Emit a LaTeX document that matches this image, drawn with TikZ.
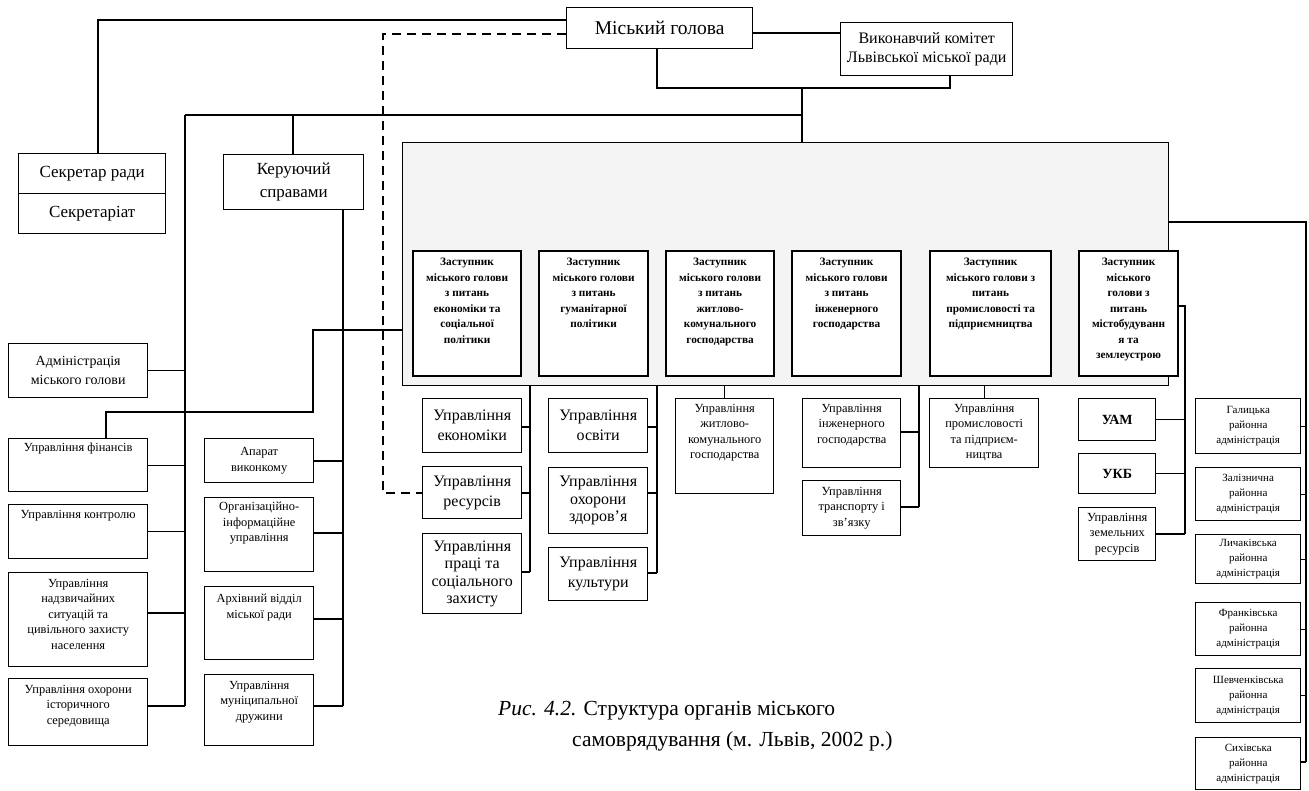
\documentclass[tikz,border=0pt]{standalone}
\usepackage{fontspec}
\setmainfont{Liberation Serif}
\newcommand\cbx[7]{\node[#6, anchor=north west, minimum width={(#4-#2)*1pt}, minimum height={(#5-#3)*1pt}] (#1) at (#2,#3) {#7};}
\newcommand\tbx[8]{\node[#6, anchor=north west, minimum width={(#4-#2)*1pt}, minimum height={(#5-#3)*1pt}] (#1) at (#2,#3) {};
\node[txt, #7, anchor=north] (#1-t) at (#1.north) {#8};}
\tikzset{
  box/.style={draw, line width=1.4pt, fill=white, inner sep=1pt, align=center},
  depbox/.style={draw, line width=2.2pt, fill=white, inner sep=0pt},
  bigbox/.style={draw, line width=1.4pt, fill=gray!9, inner sep=0pt},
  ln/.style={line width=1.4pt},
  dln/.style={line width=1.4pt, dash pattern=on 9pt off 6pt},
  txt/.style={align=center, inner sep=0pt},
  fA/.style={font=\fontsize{19.5}{22}\selectfont},
  fB/.style={font=\fontsize{16}{19}\selectfont},
  fBB/.style={font=\fontsize{16}{20}\selectfont},
  fP/.style={font=\fontsize{16}{17.5}\selectfont},
  fC/.style={font=\fontsize{14}{19}\selectfont},
  fD/.style={font=\fontsize{12.4}{15.5}\selectfont},
  fE/.style={font=\fontsize{11}{15}\selectfont},
  fDep/.style={font=\bfseries\fontsize{11.3}{15.5}\selectfont},
  fU/.style={font=\bfseries\fontsize{14}{16}\selectfont},
}
\begin{document}
\begin{tikzpicture}[x=1pt,y=-1pt]
\useasboundingbox (0,0) rectangle (1309,791);

% top
\cbx{mayor}{566}{7}{752}{48}{box,fA}{Міський голова}
\cbx{exec}{840}{22}{1012}{75}{box,fB}{Виконавчий комітет\\Львівської міської ради}
\cbx{sec}{18}{153}{165}{193}{box,font=\fontsize{17}{20}\selectfont}{Секретар ради}
\cbx{secr}{18}{193}{165}{233}{box,font=\fontsize{17}{20}\selectfont}{Секретаріат}
\cbx{ker}{223}{154}{363}{209}{box,font=\fontsize{17}{23}\selectfont}{Керуючий\\справами}

% big shaded box and deputies
\node[bigbox, anchor=north west, minimum width=766pt, minimum height=243pt] (big) at (402,142) {};
\tbx{dep1}{412}{250}{520}{375}{depbox}{fDep,yshift=-8pt}{Заступник\\міського голови\\з питань\\економіки та\\соціальної\\політики}
\tbx{dep2}{538}{250}{647}{375}{depbox}{fDep,yshift=-8pt}{Заступник\\міського голови\\з питань\\гуманітарної\\політики}
\tbx{dep3}{665}{250}{773}{375}{depbox}{fDep,yshift=-8pt}{Заступник\\міського голови\\з питань\\житлово-\\комунального\\господарства}
\tbx{dep4}{791}{250}{900}{375}{depbox}{fDep,yshift=-8pt}{Заступник\\міського голови\\з питань\\інженерного\\господарства}
\tbx{dep5}{929}{250}{1050}{375}{depbox}{fDep,yshift=-8pt}{Заступник\\міського голови з\\питань\\промисловості та\\підприємництва}
\tbx{dep6}{1078}{250}{1177}{375}{depbox}{fDep,yshift=-8pt}{Заступник\\міського\\голови з\\питань\\містобудуванн\\я та\\землеустрою}

% left column
\cbx{adm}{8}{343}{147}{397}{box,fC}{Адміністрація\\міського голови}
\tbx{fin}{8}{438}{147}{491}{box}{fD,yshift=-5pt}{Управління фінансів}
\tbx{kontr}{8}{504}{147}{558}{box}{fD,yshift=-6pt}{Управління контролю}
\tbx{nadz}{8}{572}{147}{666}{box}{fD,yshift=-7pt}{Управління\\надзвичайних\\ситуацій та\\цивільного захисту\\населення}
\tbx{ohor}{8}{678}{147}{745}{box}{fD,yshift=-7pt}{Управління охорони\\історичного\\середовища}

% middle-left column
\cbx{apar}{204}{438}{313}{482}{box,fD}{Апарат\\виконкому}
\tbx{org}{204}{497}{313}{571}{box}{fD,yshift=-5pt}{Організаційно-\\інформаційне\\управління}
\tbx{arch}{204}{586}{313}{659}{box}{fD,yshift=-8pt}{Архівний відділ\\міської ради}
\tbx{mun}{204}{674}{313}{745}{box}{fD,yshift=-7pt}{Управління\\муніципальної\\дружини}

% departments under deputies
\cbx{econ}{422}{398}{521}{452}{box,fBB}{Управління\\економіки}
\cbx{res}{422}{466}{521}{518}{box,fBB}{Управління\\ресурсів}
\cbx{prac}{422}{533}{521}{613}{box,fP}{Управління\\праці та\\соціального\\захисту}
\cbx{osv}{548}{398}{647}{452}{box,fBB}{Управління\\освіти}
\cbx{zdor}{548}{467}{647}{533}{box,fP}{Управління\\охорони\\здоров'я}
\cbx{kult}{548}{547}{647}{600}{box,fBB}{Управління\\культури}
\tbx{zhkg}{675}{398}{773}{493}{box}{fD,yshift=-6pt}{Управління\\житлово-\\комунального\\господарства}
\tbx{inzh}{802}{398}{900}{467}{box}{fD,yshift=-6pt}{Управління\\інженерного\\господарства}
\cbx{tran}{802}{480}{900}{535}{box,fD}{Управління\\транспорту і\\зв'язку}
\tbx{prom}{929}{398}{1038}{467}{box}{fD,yshift=-6pt}{Управління\\промисловості\\та підприєм-\\ництва}
\cbx{uam}{1078}{398}{1155}{440}{box,fU}{УАМ}
\cbx{ukb}{1078}{453}{1155}{493}{box,fU}{УКБ}
\cbx{zem}{1078}{507}{1155}{560}{box,fD}{Управління\\земельних\\ресурсів}

% district administrations
\cbx{gal}{1195}{398}{1300}{453}{box,fE}{Галицька\\районна\\адміністрація}
\cbx{zal}{1195}{467}{1300}{520}{box,fE}{Залізнична\\районна\\адміністрація}
\cbx{lych}{1195}{534}{1300}{583}{box,fE}{Личаківська\\районна\\адміністрація}
\cbx{fran}{1195}{602}{1300}{655}{box,fE}{Франківська\\районна\\адміністрація}
\cbx{shev}{1195}{668}{1300}{722}{box,fE}{Шевченківська\\районна\\адміністрація}
\cbx{syh}{1195}{737}{1300}{789}{box,fE}{Сихівська\\районна\\адміністрація}

% caption
\node[anchor=base west, inner sep=0pt, font=\fontsize{21.5}{24}\selectfont] (cap1) at (498,715) {\textit{Рис. 4.2.} Структура органів міського};
\node[anchor=base west, inner sep=0pt, font=\fontsize{21.5}{24}\selectfont] (cap2) at (572,746) {самоврядування (м. Львів, 2002 р.)};

% coordinates
\coordinate (t1) at (98,20);
\coordinate (d1) at (383,34);
\coordinate (d2) at (383,493);
\coordinate (m1) at (657,88);
\coordinate (m2) at (950,88);
\coordinate (m3) at (802,88);
\coordinate (h1) at (185,115);
\coordinate (h2) at (802,115);
\coordinate (h3) at (293,115);
\coordinate (ls) at (185,706);
\coordinate (ms) at (343,706);
\coordinate (f1) at (313,330);
\coordinate (f2) at (313,412);
\coordinate (f3) at (106,412);
\coordinate (s1) at (530,572);
\coordinate (s2) at (657,573);
\coordinate (s4) at (919,507);
\coordinate (u1) at (1185,306);
\coordinate (u2) at (1185,534);
\coordinate (r1) at (1306,222);
\coordinate (r2) at (1306,762);

\begin{scope}[ln]
\draw (mayor.west |- t1) -- (t1) -- (t1 |- sec.north);
\draw[dln] (mayor.west |- d1) -- (d1) -- (d2) -- (res.west |- d2);
\draw (mayor.east |- 0,33) -- (exec.west |- 0,33);
\draw (m1 |- mayor.south) -- (m1) -- (m2) -- (m2 |- exec.south);
\draw (m3) -- (m3 |- big.north);
\draw (h1) -- (h2);
\draw (h3) -- (h3 |- ker.north);
\draw (h1) -- (ls);
\draw (adm.east) -- (adm.east -| h1);
\draw (fin.east) -- (fin.east -| h1);
\draw (kontr.east) -- (kontr.east -| h1);
\draw (nadz.east |- 0,613) -- (h1 |- 0,613);
\draw (ohor.east |- ls) -- (ls);
\draw (ms |- ker.south) -- (ms);
\draw (apar.east |- 0,461) -- (ms |- 0,461);
\draw (org.east |- 0,533) -- (ms |- 0,533);
\draw (arch.east |- 0,619) -- (ms |- 0,619);
\draw (mun.east |- ms) -- (ms);
\draw (big.west |- f1) -- (f1) -- (f2) -- (f3) -- (f3 |- fin.north);
\draw (s1 |- big.south) -- (s1);
\draw (econ.east |- 0,427) -- (s1 |- 0,427);
\draw (res.east |- d2) -- (s1 |- d2);
\draw (prac.east |- s1) -- (s1);
\draw (s2 |- big.south) -- (s2);
\draw (osv.east |- 0,427) -- (s2 |- 0,427);
\draw (zdor.east |- 0,493) -- (s2 |- 0,493);
\draw (kult.east |- s2) -- (s2);
\draw (zhkg.north |- big.south) -- (zhkg.north);
\draw (s4 |- big.south) -- (s4);
\draw (inzh.east |- 0,432) -- (s4 |- 0,432);
\draw (tran.east |- s4) -- (s4);
\draw (prom.north |- big.south) -- (prom.north);
\draw (dep6.east |- u1) -- (u1) -- (u2);
\draw (uam.east) -- (uam.east -| u1);
\draw (ukb.east) -- (ukb.east -| u1);
\draw (zem.east |- u2) -- (u2);
\draw (big.east |- r1) -- (r1) -- (r2);
\draw (gal.east) -- (gal.east -| r1);
\draw (zal.east) -- (zal.east -| r1);
\draw (lych.east) -- (lych.east -| r1);
\draw (fran.east) -- (fran.east -| r1);
\draw (shev.east) -- (shev.east -| r1);
\draw (syh.east |- r2) -- (r2);
\end{scope}
\end{tikzpicture}
\end{document}
